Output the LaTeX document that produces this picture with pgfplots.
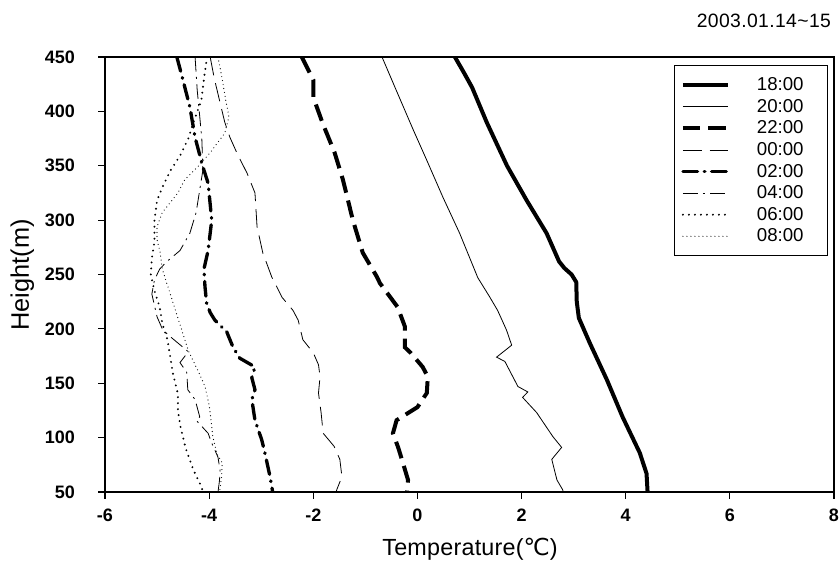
\documentclass[border=0pt]{standalone}
\usepackage{pgfplots}
\pgfplotsset{compat=1.18}
\usepackage{fontspec}
\setmainfont{Liberation Sans}
\newfontfamily\dejavu{DejaVu Sans}
\newfontfamily\titlefont[LetterSpace=2]{Liberation Sans}

\begin{document}
\begin{tikzpicture}
% page = 840x570 px at 0.75pt/px, origin at the lower left corner of the axis box
\useasboundingbox (-78.75pt,-58.5pt) rectangle (551.25pt,369pt);
\begin{axis}[
  scale only axis,
  width=546.75pt, height=326.25pt,
  xmin=-6, xmax=8, ymin=50, ymax=450,
  xtick={-6,-4,...,8}, ytick={50,100,...,450},
  tick pos=left, tick align=outside,
  major tick length=5pt,
  axis line style={line width=1pt},
  every tick/.style={black, line width=0.8pt},
  tick label style={font=\bfseries\fontsize{13.5}{13.5}\selectfont},
  xticklabel style={yshift=-4pt},
  yticklabel style={xshift=-14pt},
  /pgf/number format/assume math mode=true,
  legend image code/.code={\draw[#1] (0pt,0pt) -- (34pt,0pt);},
  legend cell align=left,
  legend style={at={(0.992,0.981)}, anchor=north east,
    draw=black, line width=0.8pt,
    font=\fontsize{14}{14}\selectfont,
    inner xsep=5pt, inner ysep=8pt, row sep=2.9pt,
    nodes={inner xsep=0pt, inner ysep=1pt},
    /tikz/every odd column/.append style={column sep=20pt}},
]
% 18:00
\addplot[black, line width=3pt, line join=round] coordinates {
(0.72,450) (0.9,435) (1.05,422) (1.33,390) (1.72,350) (2.1,318) (2.48,288)
(2.72,262) (2.82,256) (2.96,250) (3.05,243) (3.06,225) (3.1,210) (3.31,187)
(3.64,153) (3.94,119) (4.27,86) (4.40,67) (4.42,50)
};
\addlegendentry{18:00\hspace*{13pt}}
% 20:00
\addplot[black, line width=0.6pt] coordinates {
(-0.68,450) (-0.43,422) (-0.08,383) (0.18,355) (0.49,321) (0.81,288) (1.16,247)
(1.38,230) (1.54,217) (1.71,199) (1.81,185) (1.52,174) (1.68,170) (1.93,147)
(2.12,142) (2.02,137) (2.29,123) (2.6,101) (2.77,91) (2.58,80) (2.68,61)
(2.79,52) (2.8,50)
};
\addlegendentry{20:00\hspace*{13pt}}
% 22:00
\addplot[black, line width=3pt, dash pattern=on 13pt off 6pt] coordinates {
(-2.22,450) (-2.0,429) (-2.0,413) (-1.82,389) (-1.59,362) (-1.43,337) (-1.24,300)
(-1.05,270) (-0.78,248) (-0.72,242) (-0.38,220) (-0.24,202) (-0.24,183) (-0.13,178)
(0.1,165) (0.2,156) (0.18,141) (0.0,128) (-0.4,116) (-0.47,104) (-0.37,91)
(-0.28,77) (-0.18,61) (-0.2,50)
};
\addlegendentry{22:00\hspace*{13pt}}
% 00:00
\addplot[black, line width=0.6pt, dash pattern=on 14pt off 6pt] coordinates {
(-3.98,450) (-3.9,430) (-3.8,410) (-3.7,390) (-3.6,376) (-3.45,360) (-3.27,343)
(-3.12,325) (-3.08,294) (-2.97,270) (-2.8,248) (-2.6,229) (-2.39,217) (-2.29,208)
(-2.2,190) (-2.0,178) (-1.9,167) (-1.87,156) (-1.9,141) (-1.85,123) (-1.81,104)
(-1.6,92) (-1.49,80) (-1.45,64) (-1.55,52) (-1.56,50)
};
\addlegendentry{00:00\hspace*{13pt}}
% 02:00
\addplot[black, line width=2.5pt, line cap=round,
  dash pattern=on 11pt off 5pt on 0.5pt off 5pt] coordinates {
(-4.62,450) (-4.52,432) (-4.37,404) (-4.27,376) (-4.12,349) (-4.02,334) (-3.95,300)
(-4.02,272) (-4.1,255) (-4.08,239) (-4.05,224) (-3.98,215) (-3.89,208) (-3.66,197)
(-3.54,183) (-3.41,173) (-3.12,165) (-3.18,155) (-3.12,144) (-3.18,135) (-3.12,116)
(-2.99,98) (-2.93,86) (-2.83,64) (-2.78,50)
};
\addlegendentry{02:00\hspace*{13pt}}
% 04:00
\addplot[black, line width=0.6pt, dash pattern=on 11pt off 4pt on 1.5pt off 4pt] coordinates {
(-4.27,450) (-4.23,420) (-4.18,395) (-4.14,374) (-4.12,346) (-4.18,328) (-4.25,307)
(-4.37,288) (-4.56,272) (-4.81,262) (-4.95,255) (-5.05,245) (-5.1,232) (-5.0,211)
(-4.89,199) (-4.75,193) (-4.6,187) (-4.4,179) (-4.56,169) (-4.43,160) (-4.41,144)
(-4.27,135) (-4.18,119) (-4.25,116) (-4.02,104) (-3.95,95) (-3.83,82) (-3.79,70)
(-3.8,61) (-3.83,50)
};
\addlegendentry{04:00\hspace*{13pt}}
% 06:00
\addplot[black, line width=1.6pt, line cap=round, dash pattern=on 0pt off 4.5pt] coordinates {
(-4.04,450) (-4.1,430) (-4.15,410) (-4.3,390) (-4.4,375) (-4.55,360) (-4.75,345)
(-4.9,330) (-5.0,318) (-5.05,300) (-5.05,280) (-5.1,265) (-5.12,250) (-5.05,235)
(-4.95,220) (-4.9,205) (-4.8,190) (-4.75,175) (-4.7,160) (-4.6,140) (-4.6,125)
(-4.55,110) (-4.45,90) (-4.3,70) (-4.15,55) (-4.12,50)
};
\addlegendentry{06:00\hspace*{13pt}}
% 08:00
\addplot[black, line width=0.9pt, line cap=round, dash pattern=on 0pt off 3pt] coordinates {
(-3.83,450) (-3.75,430) (-3.68,410) (-3.62,395) (-3.7,380) (-3.98,362) (-4.22,349)
(-4.47,337) (-4.6,325) (-4.9,307) (-5.0,294) (-5.0,282) (-4.94,270) (-4.9,255)
(-4.8,240) (-4.7,225) (-4.6,210) (-4.5,195) (-4.4,180) (-4.31,171) (-4.2,160)
(-4.08,147) (-4.0,130) (-3.98,123) (-3.93,101) (-3.85,85) (-3.75,77) (-3.76,64)
(-3.8,50)
};
\addlegendentry{08:00\hspace*{13pt}}
\end{axis}
\node[anchor=base east, font=\titlefont\fontsize{14.5}{14.5}\selectfont]
  at (548pt,348pt) {2003.01.14\textasciitilde15};
\node[rotate=90, font=\fontsize{19}{19}\selectfont] at (-62pt,162.75pt) {Height(m)};
\node[font=\fontsize{17.5}{17.5}\selectfont\addfontfeatures{LetterSpace=1}] at (273.75pt,-43pt)
  {Temperature({\dejavu ℃})};
\end{tikzpicture}
\end{document}
